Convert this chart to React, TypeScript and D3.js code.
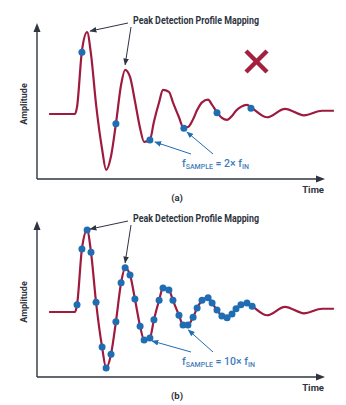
import React from "react";
import * as d3 from "d3";

// Waveform (time in µs-like units, amplitude in relative units)
const waveT = [4.2, 13.2, 13.9, 15.6, 17.4, 18.75, 20.5, 22.6, 24.0, 25.7, 27.4, 29.2, 30.6, 32.3, 34.0, 35.8, 37.2, 39.2, 40.6, 42.4, 43.75, 45.8, 47.2, 49.3, 50.7, 52.4, 54.2, 55.6, 57.3, 59.4, 60.8, 62.5, 64.2, 66.0, 67.7, 69.1, 70.8, 72.9, 74.7, 79.9, 86.1, 92.7, 99.0, 103.1];
const waveA = [0, 0, 0.11, 0.97, 1.26, 0.92, 0.15, -0.54, -0.86, -0.65, -0.15, 0.45, 0.68, 0.57, 0.2, -0.22, -0.43, -0.4, -0.12, 0.18, 0.37, 0.34, 0.18, -0.05, -0.2, -0.2, -0.08, 0.06, 0.18, 0.22, 0.14, 0.03, -0.06, -0.09, -0.03, 0.05, 0.11, 0.14, 0.09, -0.05, 0.08, -0.02, 0.05, 0.05];

// Samples, panel (a): fSAMPLE = 2x fIN
const samplesAT = [15.6, 27.4, 39.2, 51.0, 62.5, 74.3];
const samplesAA = [0.95, -0.15, -0.4, -0.22, 0.02, 0.09];

// Samples, panel (b): fSAMPLE = 10x fIN
const samplesBT = [13.9, 15.6, 17.4, 18.75, 20.5, 22.6, 24.0, 25.7, 27.4, 29.2, 30.6, 32.3, 34.0, 35.8, 37.2, 39.2, 40.6, 42.4, 43.75, 45.8, 47.2, 49.3, 50.7, 52.4, 54.2, 55.6, 57.3, 59.4, 60.8, 62.5, 64.2, 66.0, 67.7, 69.1, 70.8, 72.9, 74.7];
const samplesBA = [0.11, 0.97, 1.26, 0.92, 0.15, -0.54, -0.86, -0.65, -0.15, 0.45, 0.68, 0.57, 0.2, -0.22, -0.43, -0.4, -0.12, 0.18, 0.37, 0.34, 0.18, -0.05, -0.2, -0.2, -0.08, 0.06, 0.18, 0.22, 0.14, 0.03, -0.06, -0.09, -0.03, 0.05, 0.11, 0.14, 0.09];

const titleText = "Peak Detection Profile Mapping";
const xLabel = "Time";
const yLabel = "Amplitude";
const panelLabels = ["(a)", "(b)"];
const ratioLabels = ["2×", "10×"];
// Annotation targets (time values of the pointed samples)
const peakTargetsT = [17.4, 30.6];
const blueTargetsA = [39.2, 51.0];
const blueTargetsB = [38.2, 51.5];

const RED = "#9e1b3f";
const BLUE = "#1f6db3";
const BLUE_TXT = "#3f7dba";
const AXIS = "#2e3440";
const FONT = "Roboto, 'Open Sans', sans-serif";

function Panel({ offY, dotsT, dotsA, idx, blueT, good }: any) {
  const x = d3.scaleLinear().domain([0, 100]).range([37, 325]);
  const y = d3.scaleLinear().domain([-1, 1.4]).range([179 + offY, 23 + offY]);
  const pts = waveT.map((t, i) => [t, waveA[i]] as [number, number]);
  const line = d3
    .line<[number, number]>()
    .x((d) => x(d[0]))
    .y((d) => y(d[1]))
    .curve(d3.curveMonotoneX);
  const ampAt = (t: number) => {
    const i = d3.bisectLeft(waveT, t);
    if (i <= 0) return waveA[0];
    if (i >= waveT.length) return waveA[waveA.length - 1];
    const t0 = waveT[i - 1], t1 = waveT[i];
    return waveA[i - 1] + ((waveA[i] - waveA[i - 1]) * (t - t0)) / (t1 - t0);
  };
  const x0 = x(0), yb = y(-1), yt = y(1.4), xr = x(100);
  const tx = 133, ty = 24 + offY;
  const pk1 = [x(peakTargetsT[0]) + 3, y(ampAt(peakTargetsT[0])) - 1];
  const pk2 = [x(peakTargetsT[1]), y(ampAt(peakTargetsT[1])) - 5];
  const b1 = [x(blueT[0]) + 5, y(ampAt(blueT[0])) + 2];
  const b2 = [x(blueT[1]) + 3, y(ampAt(blueT[1])) + 5];
  const mid = `arr${idx}`;
  const bid = `barr${idx}`;
  return (
    <g>
      {/* axes */}
      <line x1={x0} y1={yb} x2={x0} y2={yt + 6} stroke={AXIS} strokeWidth={1.4} />
      <path d={`M${x0},${yt} L${x0 - 3.5},${yt + 9} L${x0 + 3.5},${yt + 9} Z`} fill={AXIS} />
      <line x1={x0} y1={yb} x2={xr - 6} y2={yb} stroke={AXIS} strokeWidth={1.4} />
      <path d={`M${xr},${yb} L${xr - 9},${yb - 3.5} L${xr - 9},${yb + 3.5} Z`} fill={AXIS} />
      <text x={324} y={193 + offY} textAnchor="end" fontFamily={FONT} fontWeight={700} fontSize={9.5} fill={AXIS}>{xLabel}</text>
      <text transform={`translate(27,${104 + offY}) rotate(-90)`} textAnchor="middle" fontFamily={FONT} fontWeight={700} fontSize={9} fill={AXIS}>{yLabel}</text>
      <text x={177} y={201 + offY} textAnchor="middle" fontFamily={FONT} fontWeight={700} fontSize={9.5} fill={AXIS}>{panelLabels[idx]}</text>
      {/* waveform */}
      <path d={line(pts) || ""} fill="none" stroke={RED} strokeWidth={2.2} />
      {dotsT.map((t: number, i: number) => (
        <circle key={i} cx={x(t)} cy={y(dotsA[i])} r={3.5} fill={BLUE} />
      ))}
      {/* title + arrows */}
      <defs>
        <marker id={mid} viewBox="0 0 10 10" refX={9} refY={5} markerWidth={7} markerHeight={7} orient="auto" markerUnits="userSpaceOnUse">
          <path d="M0,1 L10,5 L0,9 Z" fill={AXIS} />
        </marker>
        <marker id={bid} viewBox="0 0 10 10" refX={9} refY={5} markerWidth={7} markerHeight={7} orient="auto" markerUnits="userSpaceOnUse">
          <path d="M0,1 L10,5 L0,9 Z" fill={BLUE} />
        </marker>
      </defs>
      <text x={tx} y={ty} fontFamily={FONT} fontWeight={700} fontSize={10} fill={AXIS} textLength={126} lengthAdjust="spacingAndGlyphs">{titleText}</text>
      <line x1={128} y1={ty - 1} x2={pk1[0]} y2={pk1[1]} stroke={AXIS} strokeWidth={1} markerEnd={`url(#${mid})`} />
      <line x1={131} y1={ty + 3} x2={pk2[0]} y2={pk2[1]} stroke={AXIS} strokeWidth={1} markerEnd={`url(#${mid})`} />
      <line x1={191} y1={154 + offY} x2={b1[0]} y2={b1[1]} stroke={BLUE} strokeWidth={1} markerEnd={`url(#${bid})`} />
      <line x1={213} y1={154 + offY} x2={b2[0]} y2={b2[1]} stroke={BLUE} strokeWidth={1} markerEnd={`url(#${bid})`} />
      <text x={182} y={167 + offY} fontFamily={FONT} fontWeight={500} fontSize={10.5} fill={BLUE_TXT}>
        f<tspan fontSize={7} dy={2}>SAMPLE</tspan>
        <tspan dy={-2}>{` = ${ratioLabels[idx]} f`}</tspan>
        <tspan fontSize={7} dy={2}>IN</tspan>
      </text>
      {good ? (
        <path d={`M262,${254 + offY} L272,${264 + offY} L289,${249 + offY}`} fill="none" stroke="#17a06a" strokeWidth={4.5} />
      ) : (
        <g stroke="#a3203f" strokeWidth={4.5}>
          <line x1={246} y1={51 + offY} x2={267} y2={72 + offY} />
          <line x1={267} y1={51 + offY} x2={246} y2={72 + offY} />
        </g>
      )}
    </g>
  );
}

export default function App() {
  return (
    <svg width={346} height={405} style={{ position: "absolute", left: 0, top: 0, background: "#fff" }}>
      <rect width={346} height={405} fill="#fff" />
      <Panel offY={0} dotsT={samplesAT} dotsA={samplesAA} idx={0} blueT={blueTargetsA} good={false} />
      <Panel offY={198} dotsT={samplesBT} dotsA={samplesBA} idx={1} blueT={blueTargetsB} good={true} />
    </svg>
  );
}
